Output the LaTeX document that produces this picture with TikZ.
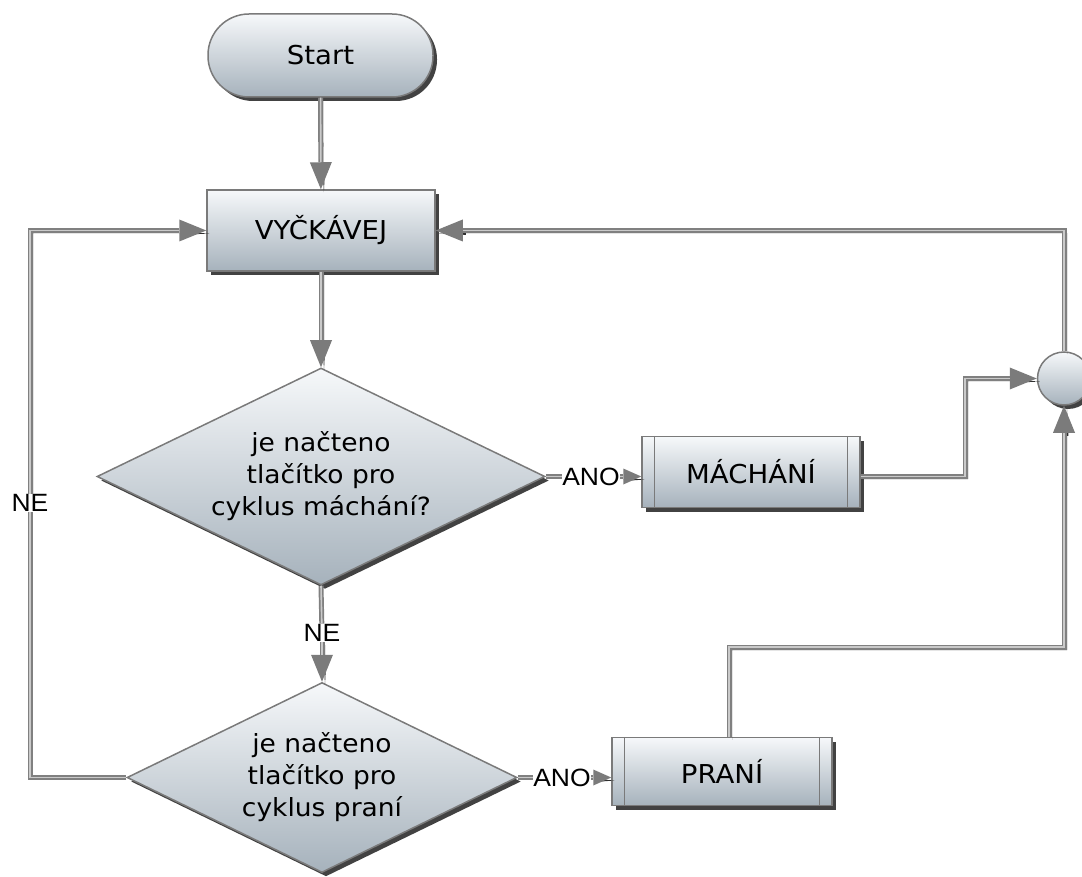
\documentclass[tikz,border=0pt]{standalone}
\usepackage{fontspec}
\setmainfont{DejaVu Sans}[FakeStretch=1.06]
\newfontfamily\lblfont{Liberation Sans}[FakeStretch=1.06]
\usetikzlibrary{arrows.meta,shapes.geometric,shadows,calc}
\definecolor{edgegray}{HTML}{7A7A7A}
\definecolor{pipegray}{HTML}{808080}
\definecolor{pipecore}{HTML}{CACACA}
\definecolor{tipgray}{HTML}{7B7B7B}
\definecolor{filltop}{HTML}{F6F8FA}
\definecolor{fillbot}{HTML}{A6B2BC}
\definecolor{shadowgray}{HTML}{2E2E2E}
\begin{document}
\begin{tikzpicture}[x=1pt,y=-1pt,
  box/.style={draw=edgegray, line width=1.5pt, top color=filltop, bottom color=fillbot,
    drop shadow={shadow xshift=4pt, shadow yshift=-4pt, fill=shadowgray, opacity=0.9},
    font=\fontsize{26}{31}\selectfont, text=black, inner sep=0pt},
  terminal/.style={box, rectangle, rounded corners=41pt, minimum width=225pt, minimum height=83pt},
  process/.style={box, rectangle, minimum width=228pt, minimum height=81pt},
  subproc/.style={box, rectangle},
  decision/.style={box, diamond, aspect=2, align=center, font=\fontsize{25}{32}\selectfont},
  junction/.style={box, circle, minimum size=53pt},
  pipe/.style={draw=pipegray, line width=5pt, line join=miter},
  conn/.style={pipe, postaction={draw=pipecore, line width=1.6pt, -}},
  tipshadow/.style={preaction={draw=shadowgray, line width=0.01pt,
    -{Triangle[length=#1,line width=0pt,fill=shadowgray,color=shadowgray]},
    transform canvas={shift={(3pt,-3pt)}}}},
  arr/.style={pipe, tipshadow={27pt}, -{Triangle[length=27pt,width=22pt,line width=0pt,fill=tipgray,color=tipgray]},
    postaction={draw=pipecore, line width=1.6pt, -, shorten >=27pt}},
  arrs/.style={pipe, tipshadow={18pt}, -{Triangle[length=18pt,width=16pt,line width=0pt,fill=tipgray,color=tipgray]},
    postaction={draw=pipecore, line width=1.6pt, -, shorten >=18pt}},
  lbl/.style={font=\lblfont\fontsize{25}{30}\selectfont, fill=white, inner sep=0.5pt, text=black},
  sidebar/.style={draw=edgegray, line width=1.2pt}
]
\useasboundingbox (0,0) rectangle (1082,877);

% process nodes
\node[terminal] (s) at (320.5,55.5) {Start};
\node[process] (v) at (321,230.5) {VYČKÁVEJ};
\node[decision, minimum width=448pt, minimum height=217pt] (d1) at (321,476.5)
  {je načteno\\tlačítko pro\\cyklus máchání?};
\node[decision, minimum width=390pt, minimum height=190pt] (d2) at (322,777.5)
  {je načteno\\tlačítko pro\\cyklus praní};
\node[subproc, minimum width=218pt, minimum height=71pt] (m) at (751,472) {MÁCHÁNÍ};
\node[subproc, minimum width=220pt, minimum height=68pt] (p) at (722,771.5) {PRANÍ};
\node[junction] (c) at (1064,378.5) {};

% side bars of the predefined-process boxes
\foreach \n in {m,p}{
  \draw[sidebar] ([xshift=13pt]\n.north west) -- ([xshift=13pt]\n.south west);
  \draw[sidebar] ([xshift=-13pt]\n.north east) -- ([xshift=-13pt]\n.south east);
}

% branch labels
\node[lbl] (ano1) at (591,476.5) {ANO};
\node[lbl] (ano2) at (562,777.5) {ANO};
\node[lbl] (ne1) at (322,633) {NE};
\node[lbl] (ne2) at (30,503) {NE};

% bend points
\coordinate (j1) at (965,378.5);
\coordinate (j2) at (729,647);

% connectors
\draw[arr] (s) -- (v);
\draw[arr] (v) -- (d1);
\draw[conn] (d1.east) -- (ano1);
\draw[arrs] (ano1) -- (ano1 -| m.west);
\draw[conn] (d1.south) -- (ne1);
\draw[arr] (ne1) -- (d2.north);
\draw[conn] (d2.east) -- (ano2);
\draw[arrs] (ano2) -- (ano2 -| p.west);
\draw[conn] (d2.west) -| (ne2);
\draw[arr] (ne2) |- (v.west);
\draw[arr] (m.east |- ano1) -| (j1) -- (c.west);
\draw[arr] (j2 |- p.north) -- (j2) -| (c.south);
\draw[arr] (c.north) |- (v.east);
\end{tikzpicture}
\end{document}
